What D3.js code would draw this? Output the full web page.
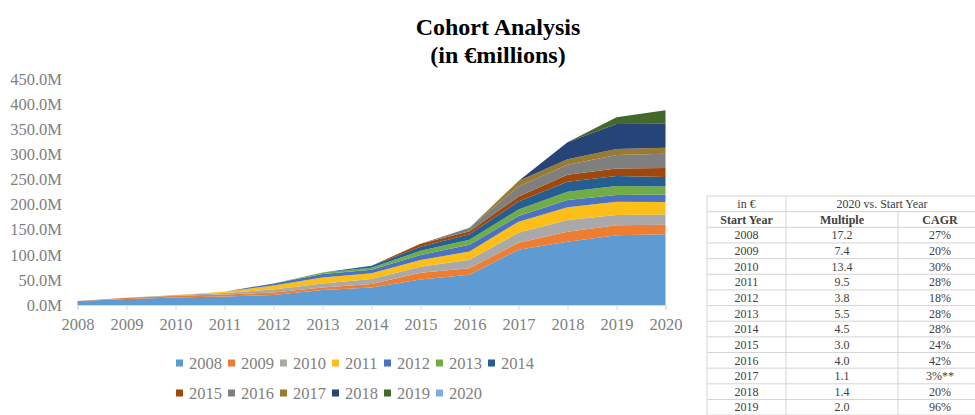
<!DOCTYPE html>
<html>
<head>
<meta charset="utf-8">
<script src="https://cdn.jsdelivr.net/npm/d3@7"></script>
<style>
  body { margin: 0; background: #fff; }
  svg { display: block; font-family: "Liberation Serif", "Times New Roman", serif; }
</style>
</head>
<body>
<svg id="chart" width="975" height="415"></svg>
<script>
// ---- data ----
var years = [2008, 2009, 2010, 2011, 2012, 2013, 2014, 2015, 2016, 2017, 2018, 2019, 2020];
var cohorts = ["2008", "2009", "2010", "2011", "2012", "2013", "2014", "2015", "2016", "2017", "2018", "2019", "2020"];

// revenue by cohort (in € millions), one value per calendar year
var c2008 = [8.2, 12, 15, 17, 20, 30, 35, 51, 60, 110, 126, 139, 141];
var c2009 = [0, 2.4, 3.5, 4, 5, 5, 7, 13, 13, 14, 20, 20, 19];
var c2010 = [0, 0, 1.5, 3, 6, 8, 10, 12, 17, 20, 23, 20, 20];
var c2011 = [0, 0, 0, 2.6, 8, 12, 11, 13.6, 16.5, 22, 25.5, 26.7, 25];
var c2012 = [0, 0, 0, 0, 4, 6.7, 7, 10, 13.5, 11, 14.5, 13.3, 15];
var c2013 = [0, 0, 0, 0, 0, 2.9, 4, 8.4, 10, 13, 16.6, 18, 16];
var c2014 = [0, 0, 0, 0, 0, 0, 4.2, 8, 11, 16, 20, 20, 19];
var c2015 = [0, 0, 0, 0, 0, 0, 0, 6, 6, 10, 13.5, 15, 18];
var c2016 = [0, 0, 0, 0, 0, 0, 0, 0, 7, 20, 20, 26.7, 28];
var c2017 = [0, 0, 0, 0, 0, 0, 0, 0, 0, 11, 11, 11.7, 12];
var c2018 = [0, 0, 0, 0, 0, 0, 0, 0, 0, 0, 34, 50, 48];
var c2019 = [0, 0, 0, 0, 0, 0, 0, 0, 0, 0, 0, 13.5, 27];
var c2020 = [0, 0, 0, 0, 0, 0, 0, 0, 0, 0, 0, 0, 0];
var cohortValues = [c2008, c2009, c2010, c2011, c2012, c2013, c2014, c2015, c2016, c2017, c2018, c2019, c2020];

var yTicks = [0, 50, 100, 150, 200, 250, 300, 350, 400, 450];

// side table
var tableYears = ["2008", "2009", "2010", "2011", "2012", "2013", "2014", "2015", "2016", "2017", "2018", "2019"];
var multiples = ["17.2", "7.4", "13.4", "9.5", "3.8", "5.5", "4.5", "3.0", "4.0", "1.1", "1.4", "2.0"];
var cagrs = ["27%", "20%", "30%", "28%", "18%", "28%", "28%", "24%", "42%", "3%**", "20%", "96%"];

var colors = ["#5f9bd3", "#ed7d31", "#a9a9a9", "#fbbf17", "#4a72c0", "#70ad47",
              "#255e91", "#9e480e", "#7f7f7f", "#997a2e", "#264478", "#43682b", "#7cafdd"];

var svg = d3.select("#chart");
var serif = "'Liberation Serif', serif";

//////////// TITLE ///////////////
svg.append("text")
    .attr("x", 498).attr("y", 35)
    .attr("text-anchor", "middle")
    .style("font-size", "24px").style("font-weight", "bold")
    .text("Cohort Analysis");
svg.append("text")
    .attr("x", 498).attr("y", 63)
    .attr("text-anchor", "middle")
    .style("font-size", "24px").style("font-weight", "bold")
    .text("(in €millions)");

//////////// AREA CHART ///////////////
var x = d3.scalePoint().domain(years).range([77.5, 665.5]);
var y = d3.scaleLinear().domain([0, 450]).range([305, 79]);
var color = d3.scaleOrdinal().domain(cohorts).range(colors);

var rows = years.map(function(yr, i) {
  var row = { year: yr };
  cohorts.forEach(function(c, j) { row[c] = cohortValues[j][i]; });
  return row;
});

var stack = d3.stack().keys(cohorts);
var area = d3.area()
    .x(function(d) { return x(d.data.year); })
    .y0(function(d) { return y(d[0]); })
    .y1(function(d) { return y(d[1]); });

svg.append("g").selectAll("path")
    .data(stack(rows))
    .enter().append("path")
      .attr("d", area)
      .attr("fill", function(d) { return color(d.key); });

// x axis
var xAxis = svg.append("g")
    .attr("transform", "translate(0,305)")
    .call(d3.axisBottom(x).tickSize(5).tickPadding(8));
xAxis.select(".domain").attr("stroke", "#d9d9d9");
xAxis.selectAll(".tick line").attr("stroke", "#d9d9d9");
xAxis.selectAll("text")
    .attr("fill", "#808080")
    .style("font-family", serif)
    .style("font-size", "16.5px");

// y axis (labels only)
var yAxis = svg.append("g")
    .attr("transform", "translate(62,0)")
    .call(d3.axisLeft(y).tickValues(yTicks).tickSize(0).tickPadding(0)
      .tickFormat(function(d) { return d.toFixed(1) + "M"; }));
yAxis.select(".domain").remove();
yAxis.selectAll("text")
    .attr("fill", "#808080")
    .style("font-family", serif)
    .style("font-size", "16.5px");

//////////// LEGEND ///////////////
var legend = svg.append("g")
  .selectAll("g")
    .data(cohorts)
    .enter().append("g")
      .attr("transform", function(d, i) {
        var col = i < 7 ? i : i - 7, row = i < 7 ? 0 : 1;
        return "translate(" + (176 + col * 52) + "," + (363 + row * 30) + ")";
      });
legend.append("rect")
    .attr("x", 0).attr("y", -3.5)
    .attr("width", 7).attr("height", 7)
    .attr("fill", function(d) { return color(d); });
legend.append("text")
    .attr("x", 13).attr("dy", "0.35em")
    .attr("fill", "#808080")
    .style("font-family", serif)
    .style("font-size", "16.5px")
    .text(function(d) { return d; });

//////////// TABLE ///////////////
var colX = [707, 786, 898, 982];
var rowH = 15.65, tableTop = 196;
var tbl = svg.append("g").attr("fill", "#404040");
var line = "#d4d4d4";

var nRows = tableYears.length + 2;
// horizontal rules
for (var r = 0; r <= nRows + 1; r++) {
  tbl.append("line")
      .attr("x1", colX[0]).attr("x2", colX[3])
      .attr("y1", tableTop + r * rowH).attr("y2", tableTop + r * rowH)
      .attr("stroke", line);
}
// vertical rules
var bottom = tableTop + (nRows + 1) * rowH;
tbl.append("line").attr("x1", colX[0]).attr("x2", colX[0]).attr("y1", tableTop).attr("y2", bottom).attr("stroke", line);
tbl.append("line").attr("x1", colX[1]).attr("x2", colX[1]).attr("y1", tableTop).attr("y2", bottom).attr("stroke", line);
tbl.append("line").attr("x1", colX[2]).attr("x2", colX[2]).attr("y1", tableTop + rowH).attr("y2", bottom).attr("stroke", line);

function cell(col, row, txt, bold, span) {
  var cx = span ? (colX[1] + colX[3]) / 2 - 2 : (colX[col] + colX[col + 1]) / 2;
  tbl.append("text")
      .attr("x", cx)
      .attr("y", tableTop + row * rowH + rowH / 2)
      .attr("dy", "0.35em")
      .attr("text-anchor", "middle")
      .style("font-family", serif)
      .style("font-size", "12px")
      .style("font-weight", bold ? "bold" : "normal")
      .text(txt);
}
cell(0, 0, "in €");
cell(1, 0, "2020 vs. Start Year", false, true);
cell(0, 1, "Start Year", true);
cell(1, 1, "Multiple", true);
cell(2, 1, "CAGR", true);
tableYears.forEach(function(yr, i) {
  cell(0, i + 2, yr);
  cell(1, i + 2, multiples[i]);
  cell(2, i + 2, cagrs[i]);
});
</script>
</body>
</html>
